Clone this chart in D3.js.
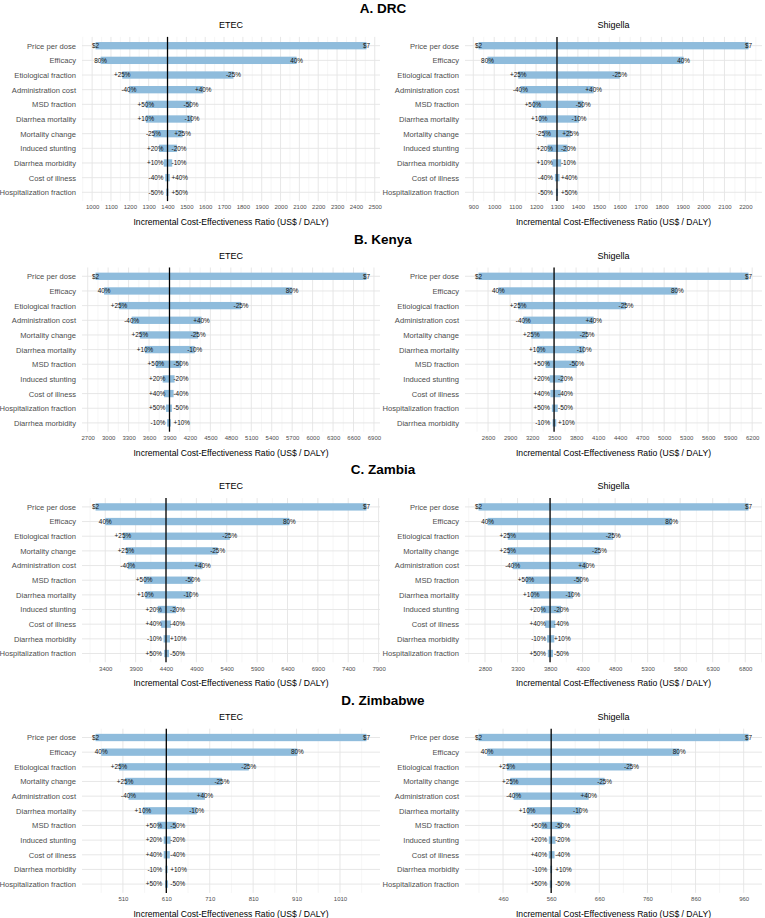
<!DOCTYPE html>
<html>
<head>
<meta charset="utf-8">
<script src="https://cdn.jsdelivr.net/npm/d3@7"></script>
<style>
  body { margin: 0; background: #fff; }
  svg { font-family: "Liberation Sans", Arial, sans-serif; }
</style>
</head>
<body>
<svg id="chart" width="765" height="918"></svg>
<script>
/* eslint-env browser */
/* global d3 */

const sectionTitles = ['A. DRC', 'B. Kenya', 'C. Zambia', 'D. Zimbabwe'];
const panelTitles = ['ETEC', 'Shigella'];

// row order and end labels per country (same for ETEC and Shigella)
const drcRows = ['Price per dose', 'Efficacy', 'Etiological fraction', 'Administration cost', 'MSD fraction',
  'Diarrhea mortality', 'Mortality change', 'Induced stunting', 'Diarrhea morbidity', 'Cost of illness',
  'Hospitalization fraction'];
const drcLowLabels = ['$2', '80%', '+25%', '-40%', '+50%', '+10%', '-25%', '+20%', '+10%', '-40%', '-50%'];
const drcHighLabels = ['$7', '40%', '-25%', '+40%', '-50%', '-10%', '+25%', '-20%', '-10%', '+40%', '+50%'];

const kenyaRows = ['Price per dose', 'Efficacy', 'Etiological fraction', 'Administration cost', 'Mortality change',
  'Diarrhea mortality', 'MSD fraction', 'Induced stunting', 'Cost of illness', 'Hospitalization fraction',
  'Diarrhea morbidity'];
const kenyaLowLabels = ['$2', '40%', '+25%', '-40%', '+25%', '+10%', '+50%', '+20%', '+40%', '+50%', '-10%'];
const kenyaHighLabels = ['$7', '80%', '-25%', '+40%', '-25%', '-10%', '-50%', '-20%', '-40%', '-50%', '+10%'];

const zambiaRows = ['Price per dose', 'Efficacy', 'Etiological fraction', 'Mortality change', 'Administration cost',
  'MSD fraction', 'Diarrhea mortality', 'Induced stunting', 'Cost of illness', 'Diarrhea morbidity',
  'Hospitalization fraction'];
const zambiaLowLabels = ['$2', '40%', '+25%', '+25%', '-40%', '+50%', '+10%', '+20%', '+40%', '-10%', '+50%'];
const zambiaHighLabels = ['$7', '80%', '-25%', '-25%', '+40%', '-50%', '-10%', '-20%', '-40%', '+10%', '-50%'];

const zimRows = ['Price per dose', 'Efficacy', 'Etiological fraction', 'Mortality change', 'Administration cost',
  'Diarrhea mortality', 'MSD fraction', 'Induced stunting', 'Cost of illness', 'Diarrhea morbidity',
  'Hospitalization fraction'];
const zimLowLabels = ['$2', '40%', '+25%', '+25%', '-40%', '+10%', '+50%', '+20%', '+40%', '-10%', '+50%'];
const zimHighLabels = ['$7', '80%', '-25%', '-25%', '+40%', '-10%', '-50%', '-20%', '-40%', '+10%', '-50%'];

// ICER (US$ / DALY) at the low and high end of each parameter range
const drcEtecBase = 1400;
const drcEtecLow = [1018, 1045, 1160, 1195, 1285, 1285, 1325, 1355, 1380, 1388, 1393];
const drcEtecHigh = [2456, 2085, 1750, 1590, 1525, 1530, 1480, 1450, 1425, 1412, 1405];
const drcEtecTicks = d3.range(1000, 2501, 100);

const drcShigBase = 1300;
const drcShigLow = [925, 968, 1115, 1125, 1185, 1215, 1235, 1255, 1278, 1290, 1295];
const drcShigHigh = [2215, 1905, 1600, 1475, 1425, 1405, 1365, 1350, 1320, 1312, 1305];
const drcShigTicks = d3.range(900, 2201, 100);

const kenyaEtecBase = 3900;
const kenyaEtecLow = [2815, 2940, 3160, 3345, 3465, 3540, 3700, 3800, 3820, 3850, 3865];
const kenyaEtecHigh = [6790, 5700, 4950, 4370, 4320, 4270, 4070, 3975, 3960, 3935, 3920];
const kenyaEtecTicks = d3.range(2700, 6901, 300);

const kenyaShigBase = 3500;
const kenyaShigLow = [2470, 2740, 3010, 3080, 3190, 3270, 3385, 3440, 3450, 3470, 3480];
const kenyaShigHigh = [6150, 5180, 4480, 4040, 3950, 3910, 3810, 3620, 3590, 3550, 3530];
const kenyaShigTicks = d3.range(2600, 6201, 300);

const zambiaEtecBase = 4400;
const zambiaEtecLow = [3240, 3400, 3690, 3740, 3770, 4040, 4060, 4265, 4320, 4360, 4370];
const zambiaEtecHigh = [7700, 6430, 5450, 5250, 5000, 4840, 4810, 4565, 4480, 4465, 4450];
const zambiaEtecTicks = d3.range(3400, 7901, 500);

const zambiaShigBase = 3800;
const zambiaShigLow = [2700, 2840, 3150, 3150, 3225, 3430, 3510, 3660, 3725, 3755, 3765];
const zambiaShigHigh = [6850, 5670, 4770, 4560, 4360, 4280, 4150, 3970, 3880, 3865, 3845];
const zambiaShigTicks = d3.range(2800, 6801, 500);

const zimEtecBase = 610;
const zimEtecLow = [447, 460, 501, 515, 523, 556, 590, 604, 604, 608, 607];
const zimEtecHigh = [1071, 912, 800, 738, 699, 680, 633, 620, 618, 613, 614];
const zimEtecTicks = d3.range(510, 1011, 100);

const zimShigBase = 560;
const zimShigLow = [409, 427, 468, 475, 482, 510, 540, 555, 555, 558, 557];
const zimShigHigh = [970, 826, 727, 671, 638, 621, 583, 569, 567, 562, 562];
const zimShigTicks = d3.range(460, 961, 100);

const panels = [
  { section: 0, col: 0, rows: drcRows, lowLabels: drcLowLabels, highLabels: drcHighLabels, low: drcEtecLow, high: drcEtecHigh, base: drcEtecBase, ticks: drcEtecTicks },
  { section: 0, col: 1, rows: drcRows, lowLabels: drcLowLabels, highLabels: drcHighLabels, low: drcShigLow, high: drcShigHigh, base: drcShigBase, ticks: drcShigTicks },
  { section: 1, col: 0, rows: kenyaRows, lowLabels: kenyaLowLabels, highLabels: kenyaHighLabels, low: kenyaEtecLow, high: kenyaEtecHigh, base: kenyaEtecBase, ticks: kenyaEtecTicks },
  { section: 1, col: 1, rows: kenyaRows, lowLabels: kenyaLowLabels, highLabels: kenyaHighLabels, low: kenyaShigLow, high: kenyaShigHigh, base: kenyaShigBase, ticks: kenyaShigTicks },
  { section: 2, col: 0, rows: zambiaRows, lowLabels: zambiaLowLabels, highLabels: zambiaHighLabels, low: zambiaEtecLow, high: zambiaEtecHigh, base: zambiaEtecBase, ticks: zambiaEtecTicks },
  { section: 2, col: 1, rows: zambiaRows, lowLabels: zambiaLowLabels, highLabels: zambiaHighLabels, low: zambiaShigLow, high: zambiaShigHigh, base: zambiaShigBase, ticks: zambiaShigTicks },
  { section: 3, col: 0, rows: zimRows, lowLabels: zimLowLabels, highLabels: zimHighLabels, low: zimEtecLow, high: zimEtecHigh, base: zimEtecBase, ticks: zimEtecTicks },
  { section: 3, col: 1, rows: zimRows, lowLabels: zimLowLabels, highLabels: zimHighLabels, low: zimShigLow, high: zimShigHigh, base: zimShigBase, ticks: zimShigTicks },
];

const svg = d3.select('#chart');
const cs = {
  pallette: {
    bar: '#8fbcdc',
    grid: '#e4e4e4',
    minor: '#f0f0f0',
    axisText: '#4d4d4d',
  },
  sectionH: 230.6,
  top: 36.9,
  bottom: 201.1,
  cols: [[82, 380], [465, 762]],
};

/**
 * @method drawPanel
 * @description draws one tornado panel (grid, bars, baseline, labels, axes)
 */
const drawPanel = (p) => {
  const [x0, x1] = cs.cols[p.col];
  const g = svg.append('g').attr('transform', `translate(0, ${p.section * cs.sectionH})`);
  const lo = d3.min(p.low);
  const hi = d3.max(p.high);
  const pad = (hi - lo) * 0.05;
  const x = d3.scaleLinear().domain([lo - pad, hi + pad]).range([x0, x1]);
  const y = d3.scalePoint().domain(p.rows).range([cs.top, cs.bottom]).padding(0.6);
  const bh = y.step() * 0.5;
  const step = p.ticks[1] - p.ticks[0];
  const minor = d3.range(p.ticks[0] - step * 10.5, hi + pad, step)
    .filter(v => v >= lo - pad && v <= hi + pad);

  // grid
  g.selectAll('.minor').data(minor).enter().append('line')
    .attr('x1', d => x(d)).attr('x2', d => x(d))
    .attr('y1', cs.top).attr('y2', cs.bottom)
    .attr('stroke', cs.pallette.minor).attr('stroke-width', 0.6);
  g.selectAll('.vmajor').data(p.ticks).enter().append('line')
    .attr('x1', d => x(d)).attr('x2', d => x(d))
    .attr('y1', cs.top).attr('y2', cs.bottom)
    .attr('stroke', cs.pallette.grid).attr('stroke-width', 0.9);
  g.selectAll('.hmajor').data(p.rows).enter().append('line')
    .attr('x1', x0).attr('x2', x1)
    .attr('y1', d => y(d)).attr('y2', d => y(d))
    .attr('stroke', cs.pallette.grid).attr('stroke-width', 0.9);

  // bars
  g.selectAll('.bar').data(p.rows).enter().append('rect')
    .attr('x', (d, i) => x(p.low[i]))
    .attr('width', (d, i) => x(p.high[i]) - x(p.low[i]))
    .attr('y', d => y(d) - bh / 2)
    .attr('height', bh)
    .attr('fill', cs.pallette.bar);

  // baseline
  g.append('line')
    .attr('x1', x(p.base)).attr('x2', x(p.base))
    .attr('y1', cs.top).attr('y2', cs.bottom)
    .attr('stroke', '#000').attr('stroke-width', 1.3);

  // end labels, pushed away from the baseline when the bar is short
  const xb = x(p.base);
  g.selectAll('.lowLab').data(p.rows).enter().append('text')
    .attr('y', d => y(d)).attr('dy', '0.35em')
    .attr('text-anchor', 'middle')
    .attr('font-size', 6.4)
    .attr('fill', '#111')
    .text((d, i) => p.lowLabels[i])
    .attr('x', function (d, i) {
      const w = this.getComputedTextLength();
      return Math.min(x(p.low[i]), xb - 4 - w / 2);
    });
  g.selectAll('.highLab').data(p.rows).enter().append('text')
    .attr('y', d => y(d)).attr('dy', '0.35em')
    .attr('text-anchor', 'middle')
    .attr('font-size', 6.4)
    .attr('fill', '#111')
    .text((d, i) => p.highLabels[i])
    .attr('x', function (d, i) {
      const w = this.getComputedTextLength();
      return Math.max(x(p.high[i]), xb + 4 + w / 2);
    });

  // axes
  const xAxis = d3.axisBottom(x).tickValues(p.ticks).tickSize(0).tickPadding(4).tickFormat(d3.format('d'));
  g.append('g').attr('transform', `translate(0, ${cs.bottom})`).call(xAxis)
    .call(s => s.select('.domain').remove())
    .selectAll('text').attr('font-size', 6).attr('fill', cs.pallette.axisText);
  const yAxis = d3.axisLeft(y).tickSize(0).tickPadding(6);
  g.append('g').attr('transform', `translate(${x0}, 0)`).call(yAxis)
    .call(s => s.select('.domain').remove())
    .selectAll('text').attr('font-size', 7.6).attr('fill', cs.pallette.axisText);

  g.append('text')
    .attr('x', (x0 + x1) / 2).attr('y', 225)
    .attr('text-anchor', 'middle')
    .attr('font-size', 8.6)
    .text('Incremental Cost-Effectiveness Ratio (US$ / DALY)');
  g.append('text')
    .attr('x', (x0 + x1) / 2).attr('y', 28)
    .attr('text-anchor', 'middle')
    .attr('font-size', 9)
    .text(panelTitles[p.col]);
};

sectionTitles.forEach((t, i) => {
  svg.append('text')
    .attr('x', 383).attr('y', i * cs.sectionH + 13)
    .attr('text-anchor', 'middle')
    .attr('font-size', 13.5)
    .attr('font-weight', 'bold')
    .text(t);
});

panels.forEach(drawPanel);
</script>
</body>
</html>
